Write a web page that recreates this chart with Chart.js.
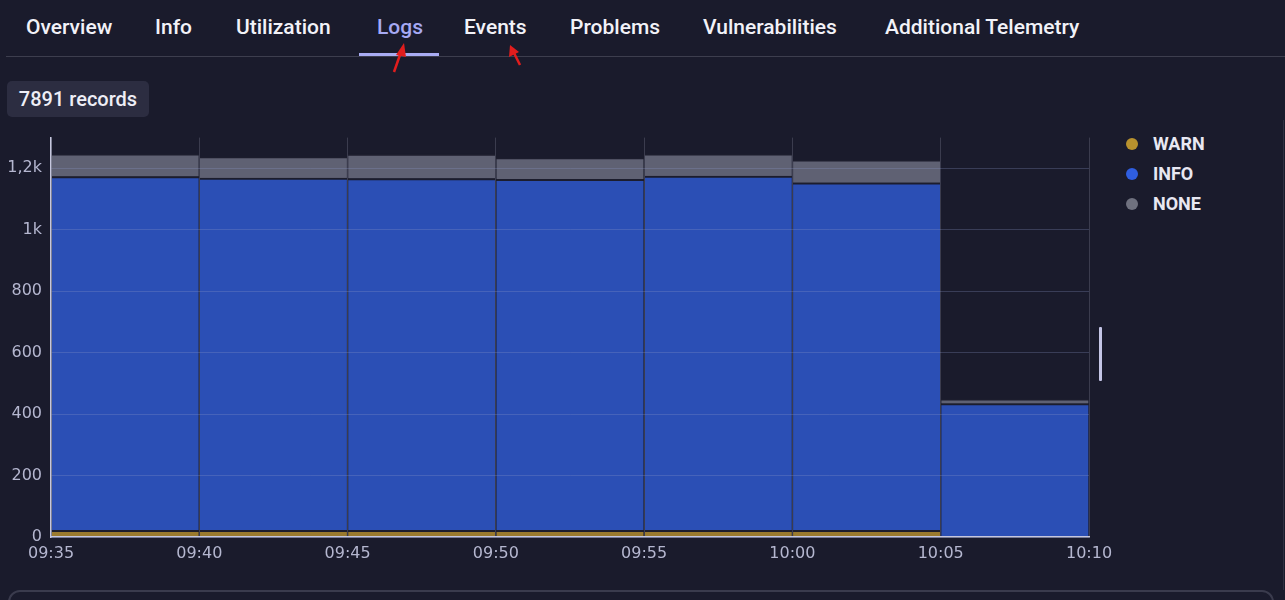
<!DOCTYPE html>
<html>
<head>
<meta charset="utf-8">
<script src="https://cdn.jsdelivr.net/npm/chart.js@4.4.1/dist/chart.umd.min.js"></script>
<style>
  html, body { margin: 0; padding: 0; background: #1a1b2c; width: 1285px; height: 600px; overflow: hidden; font-family: Roboto, "Open Sans", sans-serif; }
  .tab { position: absolute; top: 12px; font-size: 21px; font-weight: 500; color: #f2f2f8; white-space: nowrap; line-height: 30px; }
  .tab.active { color: #a6a9f4; }
  #sep { position: absolute; left: 6px; top: 56px; width: 1279px; height: 1px; background: #3d3e4e; }
  #underline { position: absolute; left: 359px; top: 53px; width: 80px; height: 3px; background: #a9acf3; }
  #badge { position: absolute; left: 7px; top: 81px; width: 142px; height: 36px; border-radius: 5px; background: #2c2d41; color: #eeeef6; font-size: 20px; font-weight: 500; line-height: 36px; text-align: center; }
  #chartBox { position: absolute; left: 0; top: 119px; width: 1120px; height: 451px; }
  .leg { position: absolute; left: 1126px; height: 20px; font-size: 18px; font-weight: 700; color: #e8e8f2; line-height: 20px; }
  .leg span.dot { position: absolute; left: 0; top: 4px; width: 12px; height: 12px; border-radius: 50%; }
  .leg span.txt { position: absolute; left: 27px; top: 0; white-space: nowrap; }
  #scroll { position: absolute; left: 1099px; top: 327px; width: 3px; height: 54px; background: #c4c5e6; border-radius: 1px; }
  #rline { position: absolute; left: 1283px; top: 120px; width: 1px; height: 470px; background: #2f3041; }
  #bottomPanel { position: absolute; left: 8px; top: 590px; width: 1262px; height: 40px; border: 2px solid #3a3b4d; border-radius: 12px; }
  svg#arrows { position: absolute; left: 0; top: 0; }
</style>
</head>
<body>
<div class="tab" style="left:26px">Overview</div>
<div class="tab" style="left:155px">Info</div>
<div class="tab" style="left:236px">Utilization</div>
<div class="tab active" style="left:377px">Logs</div>
<div class="tab" style="left:464px">Events</div>
<div class="tab" style="left:570px">Problems</div>
<div class="tab" style="left:703px">Vulnerabilities</div>
<div class="tab" style="left:885px">Additional Telemetry</div>
<div id="sep"></div>
<div id="underline"></div>
<svg id="arrows" width="1285" height="100">
  <g fill="#e11d1d" stroke="#e11d1d">
    <line x1="394" y1="72" x2="401" y2="52" stroke-width="2.5"/>
    <polygon points="404,43 396,55 406,57" stroke-width="0"/>
    <line x1="520" y1="65" x2="514" y2="53" stroke-width="2.5"/>
    <polygon points="510,45 509,57 519,52" stroke-width="0"/>
  </g>
</svg>
<div id="badge">7891 records</div>
<div id="chartBox"><canvas id="c"></canvas></div>
<div class="leg" style="top:134px"><span class="dot" style="background:#b8922e"></span><span class="txt">WARN</span></div>
<div class="leg" style="top:164px"><span class="dot" style="background:#2f5ee0"></span><span class="txt">INFO</span></div>
<div class="leg" style="top:194px"><span class="dot" style="background:#6f717f"></span><span class="txt">NONE</span></div>
<div id="scroll"></div>
<div id="rline"></div>
<div id="bottomPanel"></div>
<script>
// ---- data ----
const bucketStarts = ["09:35", "09:40", "09:45", "09:50", "09:55", "10:00", "10:05"];
const warnCounts = [22, 22, 22, 22, 22, 22, 0];
const infoCounts = [1151, 1146, 1145, 1142, 1153, 1131, 434];
const noneCounts = [74, 70, 79, 71, 72, 75, 16];
const xTickLabels = ["09:35", "09:40", "09:45", "09:50", "09:55", "10:00", "10:05", "10:10"];
const yTickValues = [0, 200, 400, 600, 800, 1000, 1200];
const yTickLabels = ["0", "200", "400", "600", "800", "1k", "1,2k"];
const bucketMinutes = 5;

const toPoints = arr => arr.map((v, i) => ({ x: i * bucketMinutes + bucketMinutes / 2, y: v }));

const barStyle = {
  barPercentage: 1,
  categoryPercentage: 1,
  borderColor: '#1c1d2d',
  borderWidth: { top: 2, left: 1, right: 1, bottom: 0 },
  borderSkipped: false
};

new Chart(document.getElementById('c'), {
  type: 'bar',
  data: {
    datasets: [
      Object.assign({ label: 'WARN', data: toPoints(warnCounts), backgroundColor: '#9a7a2e' }, barStyle),
      Object.assign({ label: 'INFO', data: toPoints(infoCounts), backgroundColor: '#2b4fb5' }, barStyle),
      Object.assign({ label: 'NONE', data: toPoints(noneCounts), backgroundColor: '#5f6173' }, barStyle)
    ]
  },
  options: {
    responsive: true,
    maintainAspectRatio: false,
    animation: false,
    layout: { padding: { top: 0, right: 31, left: 0, bottom: 0 } },
    plugins: { legend: { display: false }, tooltip: { enabled: false } },
    scales: {
      x: {
        type: 'linear',
        stacked: true,
        offset: false,
        min: 0,
        max: (xTickLabels.length - 1) * bucketMinutes,
        afterBuildTicks: s => { s.ticks = xTickLabels.map((_, i) => ({ value: i * bucketMinutes })); },
        afterFit: s => { s.height = 33; },
        grid: { offset: false, color: '#3b3c4e', lineWidth: 1, drawTicks: false, z: 1 },
        border: { display: true, color: '#c6c7de', width: 1.5, z: 1 },
        ticks: {
          autoSkip: false, maxRotation: 0, padding: 7,
          color: '#b5b7d0',
          font: { family: 'DejaVu Sans', size: 16 },
          callback: (v, i) => xTickLabels[i]
        }
      },
      y: {
        stacked: true,
        min: 0,
        max: 1300,
        afterBuildTicks: s => { s.ticks = yTickValues.map(v => ({ value: v })); },
        afterFit: s => { s.width = 51; },
        grid: { color: 'rgba(140,150,200,0.28)', lineWidth: 1, drawTicks: false, z: 1 },
        border: { display: true, color: '#c6c7de', width: 1.5, z: 1 },
        ticks: {
          padding: 9,
          color: '#b5b7d0',
          font: { family: 'DejaVu Sans', size: 16 },
          callback: (v, i) => yTickLabels[i]
        }
      }
    }
  }
});
</script>
</body>
</html>
